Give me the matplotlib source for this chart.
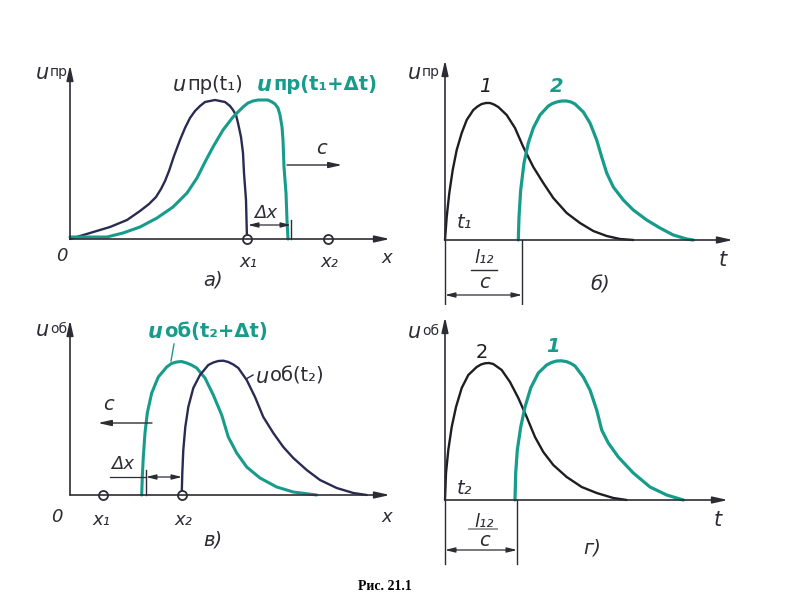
import numpy as np
import matplotlib.pyplot as plt

W, H = 797, 607
DARK = "#2a2b52"
BLACK = "#1e1e22"
TEAL = "#179c8c"
AXC = "#2c2c34"

# ---- panel a) forward wave along x (local units: x from origin, u above axis)
a_dark_x = [0, 20, 40, 57, 70, 79, 86, 91, 95, 99, 104, 110, 115, 120, 125, 130, 135, 140, 145, 150, 155, 160, 163, 166, 168, 171, 173, 174, 176, 177]
a_dark_u = [0, 6, 12, 19, 28, 35, 42, 50, 58, 68, 83, 99, 111, 121, 128, 133, 137, 138, 139, 138, 137, 133, 129, 124, 116, 102, 86, 66, 39, 0]
a_teal_x = [0, 17, 37, 53, 70, 87, 103, 117, 127, 135, 143, 153, 163, 173, 178, 183, 188, 193, 198, 202, 205, 208, 210, 212, 213, 214, 216, 217, 218]
a_teal_u = [2, 2, 2, 6, 12, 21, 32, 46, 61, 77, 92, 109, 122, 132, 136, 138, 139, 139, 139, 137, 135, 131, 124, 112, 99, 72, 46, 19, 0]

# ---- panel б) forward wave vs time
b1_x = [0, 1.7, 4.3, 7.7, 11.7, 16.7, 21.7, 28.3, 32.5, 36.7, 41, 45, 49, 53.3, 61.7, 70, 78.3, 88.3, 98.3, 108.3, 121.7, 135, 148.3, 161.7, 175, 188.3]
b1_u = [0, 23, 47, 70, 90, 107, 120, 130, 133.5, 136, 137, 137, 135.5, 133, 125, 112, 93, 73, 57, 42, 27, 17, 9, 4, 1, 0]
b2_x = [73.3, 74, 75.7, 79, 83.3, 88.3, 95, 103.3, 107.5, 111.7, 116.7, 121.7, 126, 130, 138.3, 145, 151.7, 156.7, 161.7, 168.3, 178.3, 188.3, 201.7, 215, 228.3, 241.7, 248.3]
b2_u = [0, 23, 50, 77, 97, 112, 125, 134, 136.5, 138, 139, 139, 138, 136, 128, 117, 100, 83, 67, 53, 40, 30, 20, 12, 5, 1, 0]

# ---- panel в) backward wave along x
v_teal_x = [71.7, 72.3, 73.3, 75, 77.3, 81.7, 88.3, 96.7, 101.5, 106.7, 111.5, 116.7, 121.5, 126.7, 135, 143.3, 151.7, 158.3, 166.7, 176.7, 190, 206.7, 223.3, 246.7]
v_teal_u = [0, 18, 38, 62, 82, 102, 118, 128, 131.5, 133, 133.5, 132, 130, 127, 117, 100, 80, 58, 42, 28, 17, 8, 3, 0]
v_dark_x = [111.7, 112.3, 113.3, 115.3, 118.3, 123.3, 130, 138.3, 143.3, 148.3, 153.3, 158.3, 163.3, 168.3, 176.7, 185, 193.3, 203.3, 213.3, 223.3, 236.7, 250, 266.7, 283.3, 296.7]
v_dark_u = [0, 22, 45, 68, 88, 107, 120, 130, 132.5, 134, 134.3, 133, 130.5, 127, 115, 98, 78, 62, 48, 37, 25, 15, 7, 2, 0]

# ---- panel г) backward wave vs time
g2_x = [0, 1, 3.3, 6.7, 11, 16.7, 23.3, 31.7, 36, 40, 44, 48.3, 56.7, 65, 73.3, 81.7, 90, 98.3, 108.3, 121.7, 136.7, 151.7, 168.3, 181.7]
g2_u = [0, 27, 50, 73, 93, 112, 125, 133, 135.5, 136.7, 137, 136, 130, 118, 102, 83, 63, 48, 35, 23, 13, 7, 2, 0]
g1_x = [70, 70.7, 72.3, 75.7, 80, 85.7, 93.3, 101.7, 106.5, 111.7, 116.5, 121.7, 126, 130, 138.3, 145, 151.7, 156.7, 163.3, 173.3, 188.3, 205, 221.7, 238.3]
g1_u = [0, 27, 50, 73, 93, 112, 127, 135, 137.5, 139, 139.2, 138.3, 136.5, 134, 123, 110, 90, 70, 57, 43, 27, 13, 5, 0]

fig = plt.figure(figsize=(7.97, 6.07), dpi=100)
fig.patch.set_facecolor("white")


def panel(ox, oy, x0, y0, x1, y1):
    ax = fig.add_axes([x0 / W, 1 - y1 / H, (x1 - x0) / W, (y1 - y0) / H])
    ax.set_xlim(x0 - ox, x1 - ox)
    ax.set_ylim(oy - y1, oy - y0)
    ax.axis("off")
    return ax


def arrow(ax, p0, p1, style="-|>,head_length=0.9,head_width=0.2", lw=1.2, color=AXC):
    ax.annotate("", xy=p1, xytext=p0,
                arrowprops=dict(arrowstyle=style, color=color, lw=lw, shrinkA=0, shrinkB=0))


def axes_lines(ax, xmax, ymax):
    arrow(ax, (0, 0), (xmax, 0))
    arrow(ax, (0, 0), (0, ymax))


def txt(ax, x, y, s, size=14, color=AXC, style="italic", weight="normal", ha="center"):
    ax.text(x, y, s, fontsize=size, color=color, style=style, weight=weight,
            ha=ha, va="center", family="DejaVu Sans")


def ulabel(ax, x, y, rest, size=14, color=AXC, weight="normal", usize=None):
    # italic u followed by upright subscript text
    txt(ax, x, y, "u", size=usize or size + 1, color=color, weight=weight, ha="right")
    txt(ax, x + 1, y + 1, rest, size=size, color=color, weight=weight, style="normal", ha="left")


def line_plot(ax, xs, us, color, lw):
    ax.plot(xs, us, color=color, lw=lw, solid_joinstyle="round", solid_capstyle="round")


# a)
ax = panel(70, 239, 0, 30, 400, 300)
axes_lines(ax, 320, 174)
line_plot(ax, a_dark_x, a_dark_u, DARK, 1.7)
line_plot(ax, a_teal_x, a_teal_u, TEAL, 2.2)
ax.plot([177, 258], [0, 0], "o", ms=6.5, mfc="white", mec=AXC, mew=1.3)
ulabel(ax, -21, 166, "пр", size=10, usize=15)
ulabel(ax, 116, 154, "пр(t₁)", size=14)
ulabel(ax, 202, 154, "пр(t₁+Δt)", size=14, color=TEAL, weight="bold")
txt(ax, -8, -17, "0", size=13)
txt(ax, 178, -23, "x₁", size=13)
txt(ax, 259, -23, "x₂", size=13)
txt(ax, 317, -19, "x", size=13)
txt(ax, 143, -41, "а)", size=14)
arrow(ax, (217, 74), (272, 74), style="-|>,head_length=0.8,head_width=0.18", lw=1.0)
txt(ax, 251, 90, "c", size=14)
arrow(ax, (178, 14), (221, 14), style="<|-|>,head_length=0.6,head_width=0.15", lw=0.9)
ax.plot([221, 221], [0, 19], color=AXC, lw=1.0)
txt(ax, 196, 26, "Δx", size=13)

# б)
ax = panel(445, 240, 400, 30, 797, 305)
axes_lines(ax, 288, 180)
line_plot(ax, b1_x, b1_u, BLACK, 1.7)
line_plot(ax, b2_x, b2_u, TEAL, 2.3)
ulabel(ax, -24, 167, "пр", size=10, usize=15)
txt(ax, 40, 153, "1", size=14, color=BLACK)
txt(ax, 112, 153, "2", size=14, color=TEAL, weight="bold")
txt(ax, 19, 17, "t₁", size=14)
txt(ax, 278, -20, "t", size=15)
txt(ax, 155, -45, "б)", size=14)
ax.plot([0, 0], [0, -64], color=AXC, lw=1.0)
ax.plot([77, 77], [0, -64], color=AXC, lw=1.0)
txt(ax, 39, -18, "l₁₂", size=13)
ax.plot([26, 52], [-30, -30], color=AXC, lw=1.0)
txt(ax, 39, -43, "c", size=14)
arrow(ax, (0, -55), (77, -55), style="<|-|>,head_length=0.6,head_width=0.15", lw=0.9)

# в)
ax = panel(70, 495, 0, 300, 400, 560)
axes_lines(ax, 320, 175)
line_plot(ax, v_teal_x, v_teal_u, TEAL, 2.2)
line_plot(ax, v_dark_x, v_dark_u, DARK, 1.7)
ax.plot([33, 112], [0, 0], "o", ms=6.5, mfc="white", mec=AXC, mew=1.3)
ulabel(ax, -21, 165, "об", size=10, usize=15)
ulabel(ax, 93, 163, "об(t₂+Δt)", size=14, color=TEAL, weight="bold")
ax.plot([104, 101], [151, 134], color=TEAL, lw=1.0)
ulabel(ax, 199, 118, "об(t₂)", size=14)
ax.plot([176, 183], [116, 120], color=DARK, lw=1.0)
txt(ax, -13, -22, "0", size=13)
txt(ax, 31, -25, "x₁", size=13)
txt(ax, 113, -25, "x₂", size=13)
txt(ax, 317, -22, "x", size=13)
txt(ax, 143, -45, "в)", size=14)
arrow(ax, (82, 72), (28, 72), style="-|>,head_length=0.8,head_width=0.18", lw=1.0)
txt(ax, 38, 90, "c", size=14)
ax.plot([40, 76], [18, 18], color=AXC, lw=0.9)
arrow(ax, (76, 18), (112, 18), style="<|-|>,head_length=0.6,head_width=0.15", lw=0.9)
ax.plot([76, 76], [0, 25], color=AXC, lw=1.0)
txt(ax, 53, 31, "Δx", size=13)

# г)
ax = panel(445, 500, 400, 305, 797, 570)
axes_lines(ax, 283, 183)
line_plot(ax, g2_x, g2_u, BLACK, 1.7)
line_plot(ax, g1_x, g1_u, TEAL, 2.3)
ulabel(ax, -24, 168, "об", size=10, usize=15)
txt(ax, 37, 148, "2", size=14, color=BLACK, style="normal")
txt(ax, 108, 153, "1", size=14, color=TEAL, weight="bold")
txt(ax, 19, 12, "t₂", size=14)
txt(ax, 273, -20, "t", size=15)
txt(ax, 147, -48, "г)", size=14)
ax.plot([0, 0], [0, -64], color=AXC, lw=1.0)
ax.plot([72, 72], [0, -64], color=AXC, lw=1.0)
txt(ax, 39, -22, "l₁₂", size=13)
ax.plot([24, 52], [-29, -29], color="#9a9a9a", lw=1.4)
txt(ax, 39, -40, "c", size=14)
arrow(ax, (0, -50), (72, -50), style="<|-|>,head_length=0.6,head_width=0.15", lw=0.9)

fig.text(385 / W, 1 - 586 / H, "Рис. 21.1", fontsize=10, weight="bold",
         family="Liberation Serif", ha="center", va="center")

fig.savefig("out.png", dpi=100)
